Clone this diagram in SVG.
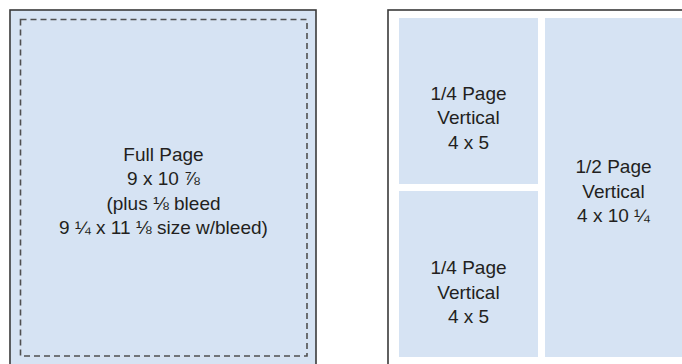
<svg xmlns="http://www.w3.org/2000/svg" width="682" height="364" viewBox="0 0 682 364">
<style>
.panel{stroke:#3a3a3a;stroke-width:1.6}
.blue{fill:#d6e3f3}
.dash{fill:none;stroke:#505050;stroke-width:1.6;stroke-dasharray:6 4}
text{font-family:"Liberation Sans",Arial,sans-serif;font-size:19px;fill:#231f20;text-anchor:middle}
</style>
<rect width="682" height="364" fill="#fff"/>
<g id="full-page">
<rect class="panel blue" x="10" y="10" width="306" height="370"/>
<rect class="dash" x="20.5" y="19.5" width="286.5" height="336.5"/>
<text x="163.5" y="160.5">Full Page</text>
<text x="163.5" y="185">9 x 10 ⅞</text>
<text x="163.5" y="209.5">(plus ⅛ bleed</text>
<text x="163.5" y="234">9 ¼ x 11 ⅛ size w/bleed)</text>
</g>
<g id="right-page">
<rect class="panel" fill="#fff" x="388" y="10" width="310" height="370"/>
</g>
<g id="quarter-top">
<rect class="blue" x="399" y="18" width="139" height="166"/>
<text x="468.5" y="99.5">1/4 Page</text>
<text x="468.5" y="124">Vertical</text>
<text x="468.5" y="148.5">4 x 5</text>
</g>
<g id="quarter-bottom">
<rect class="blue" x="399" y="191" width="139" height="166"/>
<text x="468.5" y="274">1/4 Page</text>
<text x="468.5" y="298.5">Vertical</text>
<text x="468.5" y="323">4 x 5</text>
</g>
<g id="half-page">
<rect class="blue" x="545" y="18" width="137" height="339"/>
<text x="613.5" y="173">1/2 Page</text>
<text x="613.5" y="197.5">Vertical</text>
<text x="613.5" y="222">4 x 10 ¼</text>
</g>
</svg>
